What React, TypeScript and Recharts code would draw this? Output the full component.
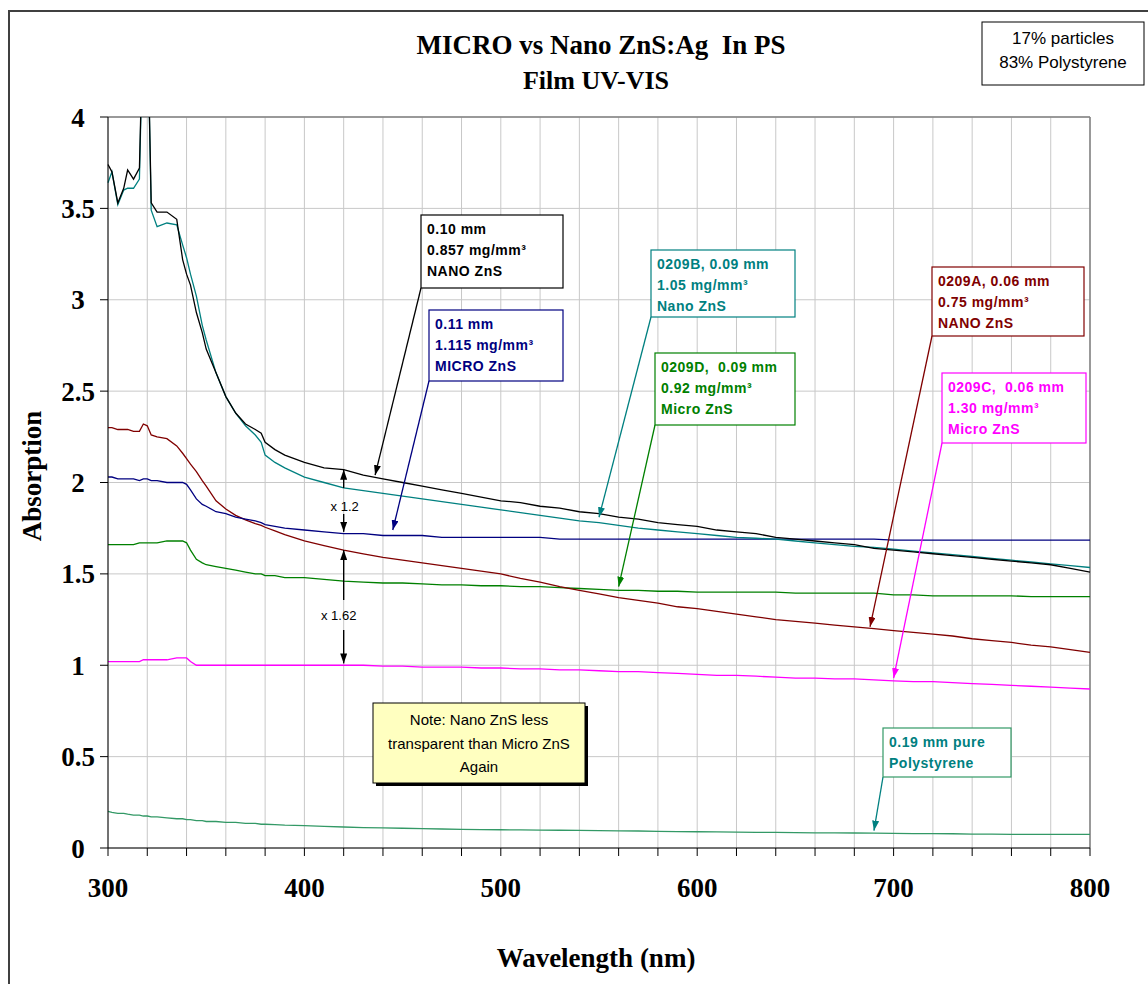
import React from 'react';
import { LineChart, Line, XAxis, YAxis, CartesianGrid, ReferenceLine } from 'recharts';

// wavelength (nm) - denser sampling near the UV edge
const WAVELENGTH = [
  300, 302, 305, 308, 310, 313, 316, 318, 320, 322, 325, 330, 335, 338, 340, 342, 345, 348, 350, 355,
  360, 365, 370, 375, 378, 380, 385, 390,
  400, 410, 420, 430, 440, 450, 460, 470, 480, 490, 500, 510, 520, 530, 540, 550, 560, 570, 580, 590,
  600, 610, 620, 630, 640, 650, 660, 670, 680, 690, 700, 710, 720, 730, 740, 750, 760, 770, 780, 790, 800,
];

// 0.10 mm NANO ZnS (black)
const NANO_010 = [
  3.74, 3.70, 3.53, 3.61, 3.71, 3.66, 3.72, 4.6, 4.6, 3.53, 3.48, 3.48, 3.44, 3.22, 3.14, 3.08, 2.93, 2.82, 2.73, 2.60,
  2.47, 2.38, 2.32, 2.29, 2.27, 2.22, 2.18, 2.15,
  2.11, 2.08, 2.07, 2.04, 2.02, 2.00, 1.98, 1.96, 1.94, 1.92, 1.90, 1.89, 1.87, 1.86, 1.84, 1.83, 1.81, 1.80, 1.78, 1.77,
  1.76, 1.74, 1.73, 1.72, 1.70, 1.69, 1.68, 1.67, 1.66, 1.64, 1.63, 1.62, 1.61, 1.60, 1.59, 1.58, 1.57, 1.56, 1.55, 1.53, 1.51,
];

// 0209B 0.09 mm Nano ZnS (teal)
const NANO_0209B = [
  3.64, 3.70, 3.52, 3.60, 3.61, 3.61, 3.66, 4.6, 4.6, 3.49, 3.40, 3.42, 3.41, 3.30, 3.23, 3.14, 3.02, 2.86, 2.78, 2.60,
  2.47, 2.38, 2.31, 2.26, 2.22, 2.15, 2.11, 2.08,
  2.03, 2.00, 1.97, 1.955, 1.94, 1.925, 1.91, 1.895, 1.88, 1.865, 1.85, 1.835, 1.82, 1.805, 1.79, 1.78, 1.765, 1.75, 1.74, 1.73,
  1.72, 1.71, 1.70, 1.695, 1.69, 1.68, 1.67, 1.66, 1.65, 1.645, 1.635, 1.625, 1.615, 1.605, 1.595, 1.585, 1.575, 1.565, 1.555, 1.545, 1.535,
];

// 0.11 mm MICRO ZnS (navy)
const MICRO_011 = [
  2.03, 2.03, 2.02, 2.02, 2.02, 2.02, 2.01, 2.02, 2.02, 2.01, 2.01, 2.00, 2.00, 2.00, 1.99, 1.96, 1.91, 1.88, 1.87, 1.84,
  1.83, 1.81, 1.80, 1.79, 1.78, 1.77, 1.76, 1.75,
  1.74, 1.73, 1.72, 1.72, 1.71, 1.71, 1.71, 1.70, 1.70, 1.70, 1.70, 1.70, 1.70, 1.69, 1.69, 1.69, 1.69, 1.69, 1.69, 1.69,
  1.69, 1.69, 1.69, 1.69, 1.69, 1.69, 1.69, 1.69, 1.69, 1.69, 1.685, 1.685, 1.685, 1.685, 1.685, 1.685, 1.685, 1.685, 1.685, 1.685, 1.685,
];

// 0209A 0.06 mm NANO ZnS (dark red)
const NANO_0209A = [
  2.30, 2.30, 2.29, 2.29, 2.29, 2.28, 2.28, 2.32, 2.31, 2.26, 2.25, 2.24, 2.20, 2.16, 2.13, 2.10, 2.06, 2.01, 1.98, 1.90,
  1.855, 1.82, 1.795, 1.775, 1.765, 1.755, 1.735, 1.715,
  1.68, 1.655, 1.63, 1.61, 1.59, 1.575, 1.56, 1.545, 1.53, 1.515, 1.50, 1.475, 1.455, 1.43, 1.41, 1.39, 1.37, 1.355, 1.34, 1.32,
  1.31, 1.295, 1.28, 1.265, 1.25, 1.24, 1.23, 1.22, 1.21, 1.20, 1.19, 1.18, 1.17, 1.16, 1.145, 1.135, 1.125, 1.11, 1.10, 1.085, 1.07,
];

// 0209D 0.09 mm Micro ZnS (green)
const MICRO_0209D = [
  1.66, 1.66, 1.66, 1.66, 1.66, 1.66, 1.67, 1.67, 1.67, 1.67, 1.67, 1.68, 1.68, 1.68, 1.67, 1.63, 1.58, 1.56, 1.55, 1.54,
  1.53, 1.52, 1.51, 1.50, 1.50, 1.49, 1.49, 1.48,
  1.48, 1.47, 1.46, 1.455, 1.45, 1.45, 1.445, 1.44, 1.44, 1.435, 1.435, 1.43, 1.43, 1.425, 1.42, 1.415, 1.41, 1.41, 1.405, 1.405,
  1.40, 1.40, 1.40, 1.40, 1.40, 1.395, 1.395, 1.395, 1.395, 1.395, 1.385, 1.385, 1.38, 1.38, 1.38, 1.38, 1.38, 1.375, 1.375, 1.375, 1.375,
];

// 0209C 0.06 mm Micro ZnS (magenta)
const MICRO_0209C = [
  1.02, 1.02, 1.02, 1.02, 1.02, 1.02, 1.02, 1.03, 1.03, 1.03, 1.03, 1.03, 1.04, 1.04, 1.04, 1.02, 1.00, 1.00, 1.00, 1.00,
  1.00, 1.00, 1.00, 1.00, 1.00, 1.00, 1.00, 1.00,
  1.00, 1.00, 1.00, 1.00, 0.995, 0.995, 0.99, 0.99, 0.99, 0.985, 0.985, 0.98, 0.98, 0.975, 0.975, 0.97, 0.965, 0.965, 0.96, 0.955,
  0.95, 0.945, 0.945, 0.94, 0.935, 0.93, 0.93, 0.925, 0.925, 0.92, 0.915, 0.91, 0.91, 0.905, 0.90, 0.895, 0.89, 0.885, 0.88, 0.875, 0.87,
];

// 0.19 mm pure polystyrene
const PURE_PS = [
  0.20, 0.195, 0.19, 0.19, 0.185, 0.18, 0.18, 0.175, 0.175, 0.17, 0.17, 0.165, 0.16, 0.16, 0.155, 0.155, 0.15, 0.15, 0.145, 0.145,
  0.14, 0.14, 0.135, 0.135, 0.13, 0.13, 0.128, 0.125,
  0.122, 0.118, 0.115, 0.112, 0.11, 0.108, 0.106, 0.104, 0.102, 0.10, 0.10, 0.099, 0.098, 0.097, 0.096, 0.095, 0.094, 0.093, 0.091, 0.09,
  0.089, 0.088, 0.087, 0.086, 0.085, 0.084, 0.083, 0.083, 0.082, 0.081, 0.08, 0.079, 0.079, 0.078, 0.076, 0.076, 0.075, 0.075, 0.075, 0.075, 0.075,
];

const X_TICKS = [300, 320, 340, 360, 380, 400, 420, 440, 460, 480, 500, 520, 540, 560, 580, 600, 620, 640, 660, 680, 700, 720, 740, 760, 780, 800];
const Y_TICKS = [0, 0.5, 1, 1.5, 2, 2.5, 3, 3.5, 4];

const data = WAVELENGTH.map((wl, i) => ({
  wl,
  nano010: NANO_010[i],
  nanoB: NANO_0209B[i],
  micro011: MICRO_011[i],
  nanoA: NANO_0209A[i],
  microD: MICRO_0209D[i],
  microC: MICRO_0209C[i],
  ps: PURE_PS[i],
}));

const SERIES = [
  { key: 'ps', color: '#339966' },
  { key: 'microC', color: '#ff00ff' },
  { key: 'microD', color: '#008000' },
  { key: 'nanoA', color: '#800000' },
  { key: 'micro011', color: '#000080' },
  { key: 'nanoB', color: '#008080' },
  { key: 'nano010', color: '#000000' },
];

// plot area in page pixels (used only for the overlay annotations)
const W = 1148;
const H = 984;
const PLOT = { left: 108, right: 1090, top: 117, bottom: 848 };
const px = (nm: number) => PLOT.left + ((nm - 300) / 500) * (PLOT.right - PLOT.left);
const py = (v: number) => PLOT.bottom - (v / 4) * (PLOT.bottom - PLOT.top);

const SERIF = '"Liberation Serif", "Times New Roman", serif';
const SANS = '"Liberation Sans", Arial, sans-serif';

const CALLOUTS = [
  { id: 'k', color: '#000000', border: '#000000', x: 421, y: 215, w: 142, h: 73, lines: ['0.10 mm', '0.857 mg/mm³', 'NANO ZnS'], tip: [436, 2.04] },
  { id: 'n', color: '#000080', border: '#000080', x: 429, y: 310, w: 134, h: 71, lines: ['0.11 mm', '1.115 mg/mm³', 'MICRO ZnS'], tip: [445, 1.74] },
  { id: 't', color: '#008080', border: '#008080', x: 651, y: 250, w: 144, h: 67, lines: ['0209B, 0.09 mm', '1.05 mg/mm³', 'Nano ZnS'], tip: [550, 1.81] },
  { id: 'g', color: '#008000', border: '#008000', x: 655, y: 353, w: 140, h: 72, lines: ['0209D,  0.09 mm', '0.92 mg/mm³', 'Micro ZnS'], tip: [560, 1.43] },
  { id: 'r', color: '#800000', border: '#800000', x: 932, y: 267, w: 152, h: 69, lines: ['0209A, 0.06 mm', '0.75 mg/mm³', 'NANO ZnS'], tip: [688, 1.21] },
  { id: 'm', color: '#ff00ff', border: '#ff00ff', x: 942, y: 373, w: 144, h: 70, lines: ['0209C,  0.06 mm', '1.30 mg/mm³', 'Micro ZnS'], tip: [700, 0.93] },
  { id: 'p', color: '#008080', border: '#339966', x: 883, y: 728, w: 128, h: 49, lines: ['0.19 mm pure', 'Polystyrene'], tip: [690, 0.095] },
];

function YTick(props: any) {
  const { y, payload } = props;
  return (
    <text x={78} y={y} dy="0.355em" textAnchor="middle" fill="#000"
      fontFamily={SERIF} fontWeight="bold" fontSize={27}>
      {payload.value}
    </text>
  );
}

function Overlay() {
  const arrowColors = ['#000000', '#000080', '#008080', '#008000', '#800000', '#ff00ff'];
  return (
    <svg width={W} height={H} style={{ position: 'absolute', left: 0, top: 0, pointerEvents: 'none' }}>
      <defs>
        {arrowColors.map((c) => (
          <marker key={c} id={`ah${c.slice(1)}`} viewBox="0 0 10 7" refX="10" refY="3.5"
            markerWidth="10" markerHeight="7" markerUnits="userSpaceOnUse" orient="auto">
            <path d="M0,0 L10,3.5 L0,7 z" fill={c} />
          </marker>
        ))}
      </defs>

      {/* outer chart frame */}
      <rect x={9} y={11} width={W} height={H} fill="none" stroke="#404040" strokeWidth={2} />

      {/* title */}
      <text x={601} y={54} textAnchor="middle" fontFamily={SERIF} fontWeight="bold" fontSize={27}>
        MICRO vs Nano ZnS:Ag{'\u00a0\u00a0'}In PS
      </text>
      <text x={596} y={89} textAnchor="middle" fontFamily={SERIF} fontWeight="bold" fontSize={26}>
        Film UV-VIS
      </text>

      {/* axis titles */}
      <text x={0} y={0} transform="translate(41,476) rotate(-90)" textAnchor="middle"
        fontFamily={SERIF} fontWeight="bold" fontSize={27}>Absorption</text>
      <text x={596} y={967} textAnchor="middle" fontFamily={SERIF} fontWeight="bold" fontSize={27}>
        Wavelength (nm)
      </text>

      {/* composition box */}
      <rect x={982} y={22} width={162} height={63} fill="#fff" stroke="#000" strokeWidth={1} />
      <text x={1063} y={44} textAnchor="middle" fontFamily={SANS} fontSize={17}>17% particles</text>
      <text x={1063} y={68} textAnchor="middle" fontFamily={SANS} fontSize={17}>83% Polystyrene</text>

      {/* callouts */}
      {CALLOUTS.map((c) => (
        <g key={c.id}>
          <line x1={c.x} y1={c.y + c.h} x2={px(c.tip[0])} y2={py(c.tip[1])} stroke={c.color}
            strokeWidth={1.3} markerEnd={`url(#ah${c.color.slice(1)})`} />
          <rect x={c.x} y={c.y} width={c.w} height={c.h} fill="#fff" stroke={c.border} strokeWidth={1.2} />
          {c.lines.map((t, i) => (
            <text key={i} x={c.x + 6} y={c.y + 19 + i * 21} fill={c.color} fontFamily={SANS}
              fontWeight="bold" fontSize={14} letterSpacing={0.5} style={{ whiteSpace: 'pre' }}>{t}</text>
          ))}
        </g>
      ))}

      {/* ratio arrows at 420 nm */}
      <g stroke="#000" strokeWidth={1.4}>
        <line x1={px(420)} y1={488} x2={px(420)} y2={py(2.07)} markerEnd="url(#ah000000)" />
        <line x1={px(420)} y1={514} x2={px(420)} y2={py(1.73)} markerEnd="url(#ah000000)" />
        <line x1={px(420)} y1={600} x2={px(420)} y2={py(1.63)} markerEnd="url(#ah000000)" />
        <line x1={px(420)} y1={630} x2={px(420)} y2={py(1.01)} markerEnd="url(#ah000000)" />
      </g>
      <text x={px(420) + 1} y={511} textAnchor="middle" fontFamily={SANS} fontSize={13}>x 1.2</text>
      <text x={px(420) - 5} y={620} textAnchor="middle" fontFamily={SANS} fontSize={13}>x 1.62</text>

      {/* note */}
      <rect x={376} y={706} width={212} height={80} fill="#000" />
      <rect x={373} y={703} width={212} height={80} fill="#ffffc0" stroke="#000" strokeWidth={1} />
      <text x={479} y={725} textAnchor="middle" fontFamily={SANS} fontSize={15}>Note: Nano ZnS less</text>
      <text x={479} y={749} textAnchor="middle" fontFamily={SANS} fontSize={15}>transparent than Micro ZnS</text>
      <text x={479} y={772} textAnchor="middle" fontFamily={SANS} fontSize={15}>Again</text>
    </svg>
  );
}

export default function App() {
  const yAxisWidth = 80;
  const xAxisHeight = 80;
  return (
    <div style={{ position: 'absolute', left: 0, top: 0, width: W, height: H, background: '#fff' }}>
      <LineChart
        width={W}
        height={H}
        data={data}
        margin={{
          top: PLOT.top,
          right: W - PLOT.right,
          bottom: H - PLOT.bottom - xAxisHeight,
          left: PLOT.left - yAxisWidth,
        }}
      >
        <CartesianGrid stroke="#c8c8c8" strokeWidth={1} />
        <XAxis
          dataKey="wl"
          type="number"
          domain={[300, 800]}
          ticks={X_TICKS}
          interval={0}
          height={xAxisHeight}
          tickSize={8}
          tickMargin={22}
          tickFormatter={(v: number) => (v % 100 === 0 ? String(v) : '')}
          stroke="#000"
          tick={{ fill: '#000', fontSize: 27, fontWeight: 'bold', fontFamily: SERIF }}
        />
        <YAxis
          type="number"
          domain={[0, 4]}
          ticks={Y_TICKS}
          interval={0}
          allowDataOverflow
          width={yAxisWidth}
          tickSize={8}
          stroke="#000"
          tick={<YTick />}
        />
        <ReferenceLine y={4} stroke="#808080" strokeWidth={1.5} />
        <ReferenceLine x={800} stroke="#808080" strokeWidth={1.5} />
        {SERIES.map((s) => (
          <Line
            key={s.key}
            dataKey={s.key}
            type="linear"
            stroke={s.color}
            strokeWidth={1.3}
            dot={false}
            activeDot={false}
            isAnimationActive={false}
          />
        ))}
      </LineChart>
      <Overlay />
    </div>
  );
}
